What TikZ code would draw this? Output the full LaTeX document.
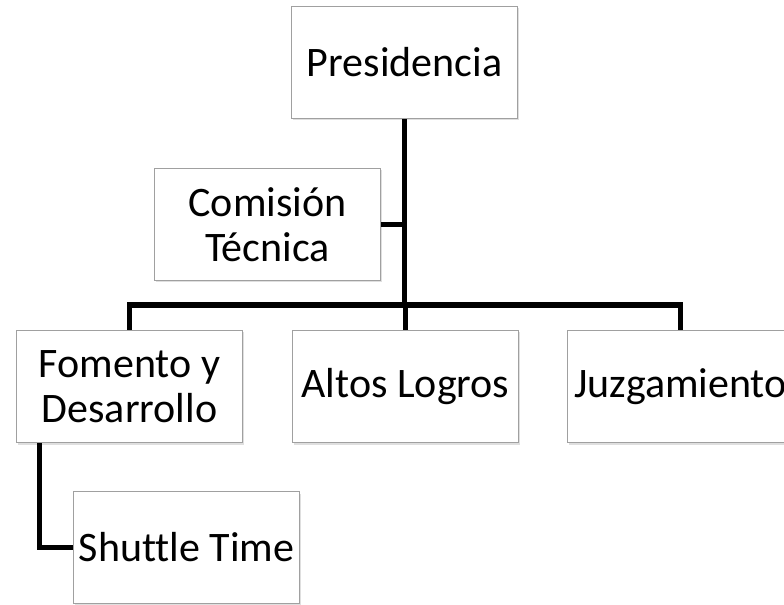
\documentclass[tikz,border=0pt]{standalone}
\usepackage{fontspec}
\setmainfont{Carlito}[RawFeature=-liga]
\usetikzlibrary{shadows,calc}
\definecolor{boxline}{HTML}{A0A0A0}
\tikzset{
  orgbox/.style={draw=boxline, line width=0.8pt, fill=white, inner sep=0pt,
    minimum width=170pt, minimum height=84pt, align=center,
    font=\fontsize{31.5pt}{33.75pt}\selectfont,
    drop shadow={opacity=0.25, shadow xshift=1pt, shadow yshift=-1.5pt}},
  link/.style={line width=3.8pt, black, line join=miter, line cap=butt}
}
\begin{document}
\begin{tikzpicture}[x=0.75pt,y=-0.75pt]
\useasboundingbox (0,0) rectangle (784,605);
\clip (0,0) rectangle (784,605);
% nodes
\node[orgbox] (pres) at (404.5,62.5) {Presidencia};
\node[orgbox] (com)  at (267.5,224.5) {Comisión\\Técnica};
\node[orgbox] (fom)  at (129.5,386.5) {Fomento y\\Desarrollo};
\node[orgbox] (alt)  at (405.5,386.5) {Altos Logros};
\node[orgbox] (juz)  at (680.5,386.5) {Juzgamiento};
\node[orgbox] (shut) at (186.5,547.5) {Shuttle Time};
\coordinate (bus) at (405,305);
\coordinate (fs) at ([xshift=18pt]fom.south west);
% connectors
\draw[link] (pres.south) -- (pres.south |- bus);
\draw[link] (com.east) -- (com.east -| pres.south);
\draw[link] (fom.north) -- (fom.north |- bus) -- (juz.north |- bus) -- (juz.north);
\draw[link] (alt.north) -- (alt.north |- bus);
\draw[link] (fs) |- (shut.west);
\end{tikzpicture}
\end{document}
